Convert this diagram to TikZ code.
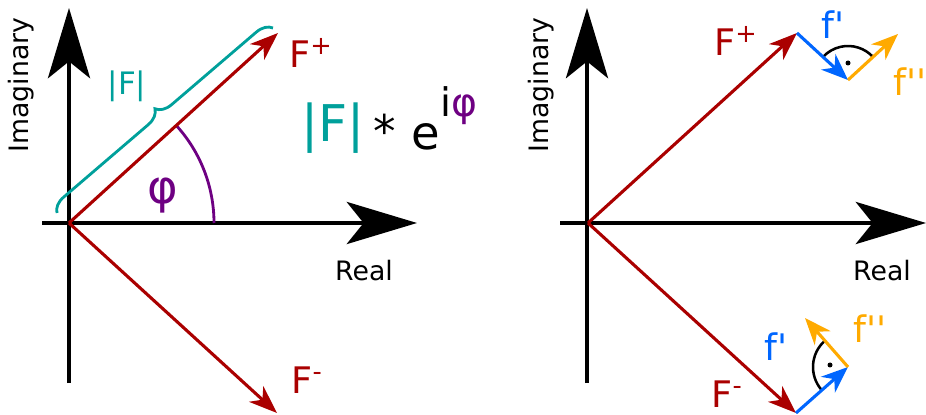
\documentclass[tikz,border=0pt]{standalone}
\usepackage{fontspec}
\setmainfont{DejaVu Sans}
\newfontfamily\rawfont{DejaVu Sans}
\usepackage{xcolor}
\usetikzlibrary{arrows.meta,calc,decorations.pathreplacing}

\definecolor{vecred}{RGB}{170,0,0}
\definecolor{absteal}{RGB}{0,160,155}
\definecolor{phasepurple}{RGB}{110,0,130}
\definecolor{fblue}{RGB}{0,102,255}
\definecolor{forange}{RGB}{255,170,0}

\begin{document}
\begin{tikzpicture}[x=0.025cm,y=0.025cm,
    axis/.style={line width=2.4pt,-{Stealth[length=50pt,width=30pt,inset=12pt]}},
    vecF/.style={vecred,line width=2.2pt,-{Stealth[length=20pt,width=15pt,inset=6pt]}},
    vecf/.style={line width=2.2pt,-{Stealth[length=19pt,width=15pt,inset=6pt]}},
    axlbl/.style={font=\fontsize{19}{19}\selectfont},
    Flbl/.style={text=vecred,font=\fontsize{26}{26}\selectfont},
    flbl/.style={font=\rawfont\fontsize{26}{26}\selectfont}]
  \useasboundingbox (0,0) rectangle (926,414);

  % left: F = |F| e^{i phi}
  \coordinate (O1) at (69,191);
  \coordinate (yb1) at (69,31);
  \coordinate (yt1) at (69,406);
  \coordinate (xl1) at (42,191);
  \coordinate (xr1) at (417,191);
  \coordinate (Fp1) at (278,381);
  \coordinate (Fm1) at (277,1);
  \coordinate (br1) at (57,201);
  \coordinate (br2) at (273,386);

  \draw[axis] (yb1) -- (yt1);
  \draw[axis] (xl1) -- (xr1);
  \draw[absteal,line width=2pt,decorate,decoration={brace,amplitude=11pt}] (br1) -- (br2);
  \draw[phasepurple,line width=2pt] ($(O1)+(145,0)$) arc[start angle=0,end angle=42.3,radius=145];
  \draw[vecF] (O1) -- (Fp1);
  \draw[vecF] (O1) -- (Fm1);

  \node[axlbl,rotate=90] (im1) at (21,329) {Imaginary};
  \node[axlbl] (re1) at (364,143) {Real};
  \node[Flbl] (Fplus1) at (311,361) {F\textsuperscript{+}};
  \node[Flbl] (Fminus1) at (307,34) {F\textsuperscript{-}};
  \node[text=absteal,font=\fontsize{22}{22}\selectfont] (absF1) at (127,328) {|F|};
  \node[text=phasepurple,font=\fontsize{33}{33}\selectfont] (phi1) at (163,218) {φ};

  % formula
  \node[text=absteal,font=\fontsize{36}{36}\selectfont,anchor=base] (absF) at (333,272) {|F|};
  \node[font=\fontsize{32}{32}\selectfont] (star) at (385,283) {*};
  \node[font=\fontsize{33}{33}\selectfont,anchor=base] (ebase) at (426,264) {e};
  \node[font=\fontsize{28}{28}\selectfont,anchor=base west,inner sep=0pt] (expo) at (440,297) {i{\color{phasepurple}φ}};

  % right: F+ and F- with f' and f''
  \coordinate (O2) at (588,191);
  \coordinate (yb2) at (587,31);
  \coordinate (yt2) at (587,406);
  \coordinate (xl2) at (560,191);
  \coordinate (xr2) at (926,191);
  \coordinate (Fp2) at (797,381);
  \coordinate (Fm2) at (796,1);
  \coordinate (Pp) at (848,334);
  \coordinate (Qp) at (898,380);
  \coordinate (Pm) at (848,47);
  \coordinate (Qm) at (805,96);

  \draw[axis] (yb2) -- (yt2);
  \draw[axis] (xl2) -- (xr2);
  \draw[vecF] (O2) -- (Fp2);
  \draw[vecF] (O2) -- (Fm2);

  \draw[line width=1.8pt] ($(Pp)+(42.6:34)$) arc[start angle=42.6,end angle=137,radius=34];
  \fill (848,351) circle (2.5);
  \draw[line width=1.8pt] ($(Pm)+(131:35)$) arc[start angle=131,end angle=221,radius=35];
  \fill (830,49) circle (2.5);

  \draw[vecf,fblue] (Fp2) -- (Pp);
  \draw[vecf,forange] (Pp) -- (Qp);
  \draw[vecf,fblue] (Fm2) -- (Pm);
  \draw[vecf,forange] (Pm) -- (Qm);

  \node[axlbl,rotate=90] (im2) at (541,329) {Imaginary};
  \node[axlbl] (re2) at (882,143) {Real};
  \node[Flbl] (Fplus2) at (736,373) {F\textsuperscript{+}};
  \node[Flbl] (Fminus2) at (727,20) {F\textsuperscript{-}};
  \node[flbl,text=fblue] (fp1) at (833,389) {f'};
  \node[flbl,text=forange] (fpp1) at (910,332) {f''};
  \node[flbl,text=fblue] (fp2) at (776,67) {f'};
  \node[flbl,text=forange] (fpp2) at (870,85) {f''};
\end{tikzpicture}
\end{document}
